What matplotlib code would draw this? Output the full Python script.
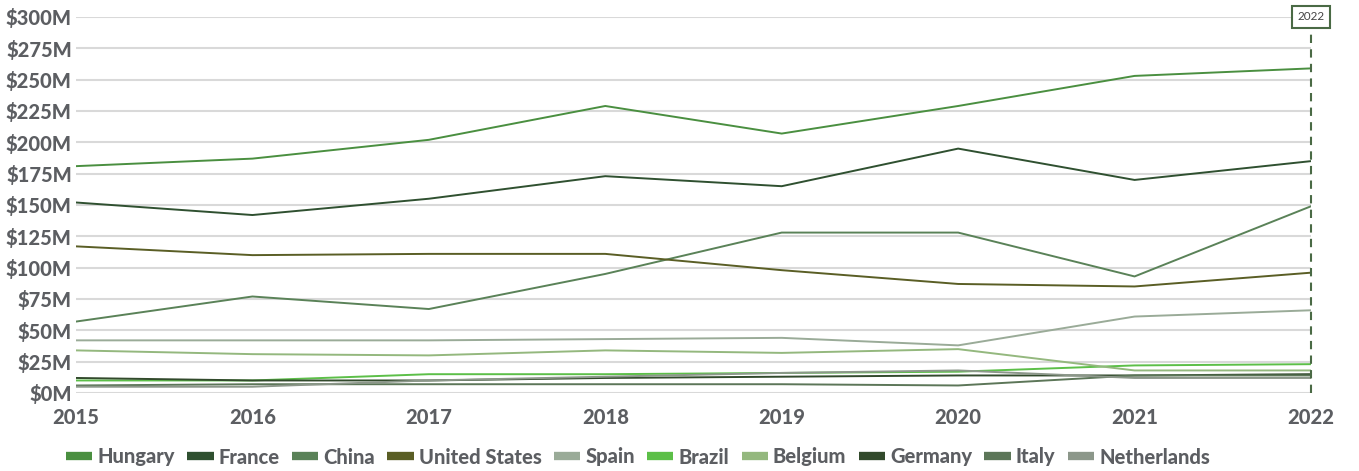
import matplotlib.pyplot as plt
from matplotlib.lines import Line2D

# años
years = [2015, 2016, 2017, 2018, 2019, 2020, 2021, 2022]

# valores en millones de USD
hungary = [181, 187, 202, 229, 207, 229, 253, 259]
france = [152, 142, 155, 173, 165, 195, 170, 185]
china = [57, 77, 67, 95, 128, 128, 93, 149]
united_states = [117, 110, 111, 111, 98, 87, 85, 96]
spain = [42, 42, 42, 43, 44, 38, 61, 66]
brazil = [10, 10, 15, 15, 16, 17, 22, 23]
belgium = [34, 31, 30, 34, 32, 35, 18, 18]
germany = [12, 10, 10, 12, 13, 14, 14, 15]
italy = [6, 7, 7, 7, 7, 6, 14, 14]
netherlands = [5, 5, 10, 13, 16, 18, 12, 12]

series = [
    ("Hungary", hungary, "#4a8f40"),
    ("France", france, "#2f5030"),
    ("China", china, "#5a8258"),
    ("United States", united_states, "#5a5e25"),
    ("Spain", spain, "#9aab98"),
    ("Brazil", brazil, "#5cbf48"),
    ("Belgium", belgium, "#94b87e"),
    ("Germany", germany, "#324a2c"),
    ("Italy", italy, "#5c7658"),
    ("Netherlands", netherlands, "#8c978a"),
]

y_ticks = list(range(0, 301, 25))
y_labels = [f"${v}M" for v in y_ticks]

plt.rcParams['font.family'] = ['Lato', 'DejaVu Sans']
plt.rcParams['font.weight'] = 'black'
txt_color = "#5c5e62"

fig = plt.figure(figsize=(13.59, 4.71), dpi=100)
ax = fig.add_axes([76/1359, 78/471, (1311-76)/1359, (393-17)/471])

for name, vals, col in series:
    ax.plot(years, vals, color=col, lw=1.4, label=name, zorder=3)

ax.set_xlim(2015, 2022)
ax.set_ylim(0, 300)
ax.set_yticks(y_ticks)
ax.set_yticklabels(y_labels, fontweight='black')
ax.set_xticks(years)
ax.set_xticklabels([str(y) for y in years], fontweight='black')
ax.grid(axis='y', color="#d9d9d9", lw=1.5, zorder=0)
ax.set_axisbelow(True)
for s in ax.spines.values():
    s.set_visible(False)
ax.tick_params(length=0, colors=txt_color, labelsize=14.5)
ax.tick_params(axis='y', pad=3)
ax.tick_params(axis='x', pad=11)

# linea vertical 2022
ax.axvline(2022, color="#4a6a45", lw=1.5, ls=(0, (4, 3)), zorder=4, clip_on=False)
ax.text(2022, 300, "2022", ha='center', va='center', fontsize=8.5, color="#444444",
        fontweight='normal',
        bbox=dict(boxstyle='square,pad=0.45', fc='white', ec="#4a6a45", lw=1.5), zorder=5)

# leyenda
handles = [Line2D([], [], color=c, lw=6, solid_capstyle='butt') for _, _, c in series]
labels = [n for n, _, _ in series]
leg = fig.legend(handles, labels, loc='center left', bbox_to_anchor=(48/1359, 14/471),
                 ncol=10, frameon=False, handlelength=1.3, handletextpad=0.25,
                 columnspacing=0.62, prop={'size': 14.5, 'weight': 'black'})
for t in leg.get_texts():
    t.set_color(txt_color)

fig.savefig("out.png", dpi=100)
